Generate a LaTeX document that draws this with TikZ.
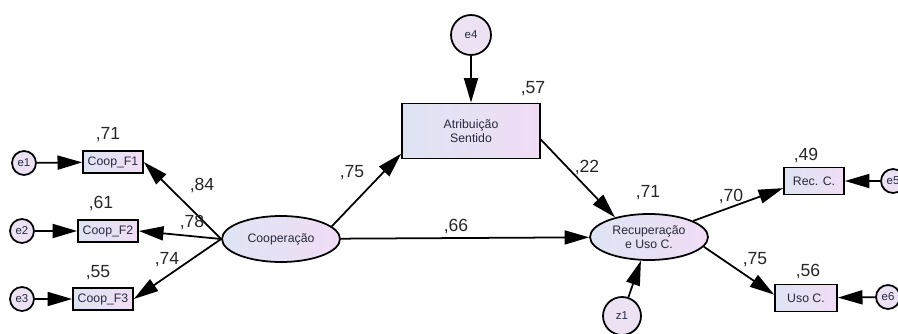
\documentclass[tikz,border=0pt]{standalone}
\usepackage{fontspec}
\setmainfont{Liberation Sans}
\usetikzlibrary{shapes.geometric,arrows.meta}
\definecolor{lilasA}{RGB}{222,228,243}
\definecolor{lilasB}{RGB}{241,221,245}
\definecolor{lilasC}{RGB}{236,226,244}
\definecolor{tinta}{RGB}{40,40,62}

\begin{document}
\begin{tikzpicture}[x=0.02cm, y=-0.02cm,
  obs/.style={draw, line width=1pt, left color=lilasA, right color=lilasB, inner sep=0pt,
    font=\fontsize{7}{8}\selectfont, text=tinta, align=center},
  lat/.style={obs, ellipse, minimum width=2.36cm, minimum height=0.92cm},
  erro/.style={draw, circle, line width=1pt, fill=lilasC, inner sep=0pt, minimum size=0.48cm,
    font=\fontsize{6.5}{7}\selectfont, text=tinta},
  seta/.style={line width=1pt, -{Triangle[length=14pt,width=8pt]}},
  coef/.style={font=\fontsize{10}{12}\selectfont, text=black!85}]
  \useasboundingbox (0,0) rectangle (898,334);

  % 観測変数
  \node[obs, minimum width=1.2cm, minimum height=0.44cm] (f1) at (113,162) {Coop\_F1};
  \node[obs, minimum width=1.2cm, minimum height=0.44cm] (f2) at (108,231) {Coop\_F2};
  \node[obs, minimum width=1.2cm, minimum height=0.44cm] (f3) at (103,299) {Coop\_F3};
  \node[obs, minimum width=2.76cm, minimum height=1.1cm] (atrib) at (471,131) {Atribuição\\Sentido};
  \node[obs, minimum width=1.2cm, minimum height=0.54cm] (rec) at (814,181) {Rec. C.};
  \node[obs, minimum width=1.24cm, minimum height=0.54cm] (uso) at (806,298) {Uso C.};

  % 潜在変数
  \node[lat] (coop) at (281,239) {Cooperação};
  \node[lat] (recup) at (649,237) {Recuperação\\e Uso C.};

  % 誤差変数
  \node[erro] (e1) at (24,163) {e1};
  \node[erro] (e2) at (22,231) {e2};
  \node[erro] (e3) at (22,299) {e3};
  \node[erro, minimum size=0.8cm] (e4) at (471,35) {e4};
  \node[erro] (e5) at (893,181) {e5};
  \node[erro] (e6) at (888,297) {e6};
  \node[erro, minimum size=0.76cm] (z1) at (622,316) {z1};

  % パス
  \draw[seta] (e1) -- (f1);
  \draw[seta] (e2) -- (f2);
  \draw[seta] (e3) -- (f3);
  \draw[seta] (e4) -- (atrib);
  \draw[seta] (e5) -- (rec);
  \draw[seta] (e6) -- (uso);
  \draw[seta] (z1) -- (recup);
  \draw[seta] (coop.west) -- (f1.east);
  \draw[seta] (coop.west) -- (f2.east);
  \draw[seta] (coop.west) -- (f3.east);
  \draw[seta] (coop.14) -- (atrib.198);
  \draw[seta] (coop) -- (recup);
  \draw[seta] (atrib.353) -- (recup.150);
  \draw[seta] (recup.20) -- (rec.193);
  \draw[seta] (recup.350) -- (uso.174);

  % 係数
  \node[coef] (r1) at (108,135) {,71};
  \node[coef] (r2) at (101,203) {,61};
  \node[coef] (r3) at (98,273) {,55};
  \node[coef] (l1) at (202,185) {,84};
  \node[coef] (l2) at (192,222) {,78};
  \node[coef] (l3) at (167,260) {,74};
  \node[coef] (b1) at (352,173) {,75};
  \node[coef] (r4) at (533,89) {,57};
  \node[coef] (b2) at (456,226) {,66};
  \node[coef] (b3) at (587,167) {,22};
  \node[coef] (r5) at (648,193) {,71};
  \node[coef] (l4) at (731,196) {,70};
  \node[coef] (l5) at (755,260) {,75};
  \node[coef] (r6) at (806,155) {,49};
  \node[coef] (r7) at (808,271) {,56};
\end{tikzpicture}
\end{document}
